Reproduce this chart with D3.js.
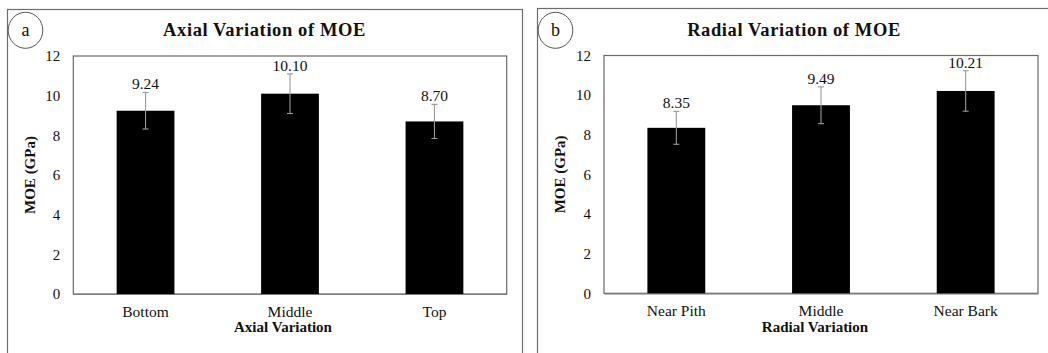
<!DOCTYPE html>
<html>
<head>
<meta charset="utf-8">
<script src="https://cdn.jsdelivr.net/npm/d3@7"></script>
<style>
  html, body { margin: 0; padding: 0; background: #fff; }
  svg { display: block; }
  text { font-family: "Liberation Serif", "Times New Roman", serif; fill: #111; }
</style>
</head>
<body>
<svg id="chart" width="1048" height="353"></svg>
<script>
// ---- Data ----
const axialCategories = ["Bottom", "Middle", "Top"];
const axialMOE = [9.24, 10.10, 8.70];
const axialSD = [0.92, 1.0, 0.86];

const radialCategories = ["Near Pith", "Middle", "Near Bark"];
const radialMOE = [8.35, 9.49, 10.21];
const radialSD = [0.83, 0.93, 1.02];

const yTicks = [0, 2, 4, 6, 8, 10, 12];
const yMax = 12;

const panels = [
  { tag: "a", title: "Axial Variation of MOE", xTitle: "Axial Variation", yTitle: "MOE (GPa)",
    cats: axialCategories, vals: axialMOE, sds: axialSD,
    frame: [7, 9, 522, 370], plot: [73.3, 56, 506.7, 294], titleX: 264.5, xTitleX: 283, tagX: 25.5 },
  { tag: "b", title: "Radial Variation of MOE", xTitle: "Radial Variation", yTitle: "MOE (GPa)",
    cats: radialCategories, vals: radialMOE, sds: radialSD,
    frame: [537, 8, 1052, 370], plot: [604, 55.5, 1038, 293.3], titleX: 794, xTitleX: 815, tagX: 555.5 }
];

const svg = d3.select("#chart");

panels.forEach(p => {
  const g = svg.append("g");
  const [fx0, fy0, fx1, fy1] = p.frame;
  const [px0, py0, px1, py1] = p.plot;

  // outer frame
  g.append("rect").attr("x", fx0 + 0.5).attr("y", fy0 + 0.5)
    .attr("width", fx1 - fx0).attr("height", fy1 - fy0)
    .attr("fill", "none").attr("stroke", "#6e6e6e").attr("stroke-width", 1.2);

  // tag circle
  g.append("ellipse").attr("cx", p.tagX).attr("cy", 30.3).attr("rx", 17.3).attr("ry", 18)
    .attr("fill", "none").attr("stroke", "#555").attr("stroke-width", 1);
  g.append("text").attr("x", p.tagX).attr("y", 30.3).attr("dy", "0.33em")
    .attr("text-anchor", "middle").attr("font-size", 18).text(p.tag);

  // title
  g.append("text").attr("x", p.titleX).attr("y", 35.7)
    .attr("text-anchor", "middle").attr("font-size", 18.5).attr("font-weight", "bold")
    .attr("letter-spacing", "0.6px")
    .text(p.title);

  const x = d3.scaleBand().domain(p.cats).range([px0, px1]).paddingInner(0.6).paddingOuter(0.3);
  const y = d3.scaleLinear().domain([0, yMax]).range([py1, py0]);

  // plot box
  g.append("rect").attr("x", px0).attr("y", y(yMax))
    .attr("width", px1 - px0).attr("height", y(0) - y(yMax))
    .attr("fill", "none").attr("stroke", "#6a6a6a").attr("stroke-width", 1.2);

  // y axis labels
  const ya = d3.axisLeft(y).tickValues(yTicks).tickSize(0).tickPadding(13).tickFormat(d3.format("d"));
  const yg = g.append("g").attr("transform", `translate(${px0},0)`).call(ya);
  yg.select(".domain").remove();
  yg.selectAll("text").attr("font-size", 15).attr("font-family", "Liberation Serif, serif").attr("fill", "#111");

  // x axis labels
  const xa = d3.axisBottom(x).tickSize(0).tickPadding(12);
  const xg = g.append("g").attr("transform", `translate(0,${y(0)})`).call(xa);
  xg.select(".domain").attr("stroke", "#7a7a7a").attr("stroke-width", 1.2);
  xg.selectAll("text").attr("font-size", 15.5).attr("font-family", "Liberation Serif, serif").attr("fill", "#111");

  const data = p.cats.map((c, i) => ({ c, v: p.vals[i], sd: p.sds[i] }));

  // bars
  g.selectAll(".bar").data(data).enter().append("rect")
    .attr("x", d => x(d.c)).attr("y", d => y(d.v))
    .attr("width", x.bandwidth()).attr("height", d => y(0) - y(d.v))
    .attr("fill", "#000");

  // error bars
  const eb = g.selectAll(".err").data(data).enter().append("g").attr("stroke", "#9a9a9a").attr("stroke-width", 1.1);
  eb.append("line").attr("x1", d => x(d.c) + x.bandwidth() / 2).attr("x2", d => x(d.c) + x.bandwidth() / 2)
    .attr("y1", d => y(d.v + d.sd)).attr("y2", d => y(d.v - d.sd));
  eb.append("line").attr("x1", d => x(d.c) + x.bandwidth() / 2 - 3).attr("x2", d => x(d.c) + x.bandwidth() / 2 + 3)
    .attr("y1", d => y(d.v + d.sd)).attr("y2", d => y(d.v + d.sd));
  eb.append("line").attr("x1", d => x(d.c) + x.bandwidth() / 2 - 3).attr("x2", d => x(d.c) + x.bandwidth() / 2 + 3)
    .attr("y1", d => y(d.v - d.sd)).attr("y2", d => y(d.v - d.sd));

  // value labels
  g.selectAll(".lbl").data(data).enter().append("text")
    .attr("x", d => x(d.c) + x.bandwidth() / 2).attr("y", d => y(d.v + d.sd) - 3)
    .attr("text-anchor", "middle").attr("font-size", 15.5)
    .text(d => d.v.toFixed(2));

  // axis titles
  g.append("text").attr("x", p.xTitleX).attr("y", 332)
    .attr("text-anchor", "middle").attr("font-size", 15).attr("font-weight", "bold").text(p.xTitle);
  g.append("text").attr("transform", `translate(${px0 - 44},${(py0 + py1) / 2 + 0}) rotate(-90)`)
    .attr("dy", "0.35em").attr("text-anchor", "middle").attr("font-size", 15).attr("font-weight", "bold")
    .text(p.yTitle);
});
</script>
</body>
</html>
